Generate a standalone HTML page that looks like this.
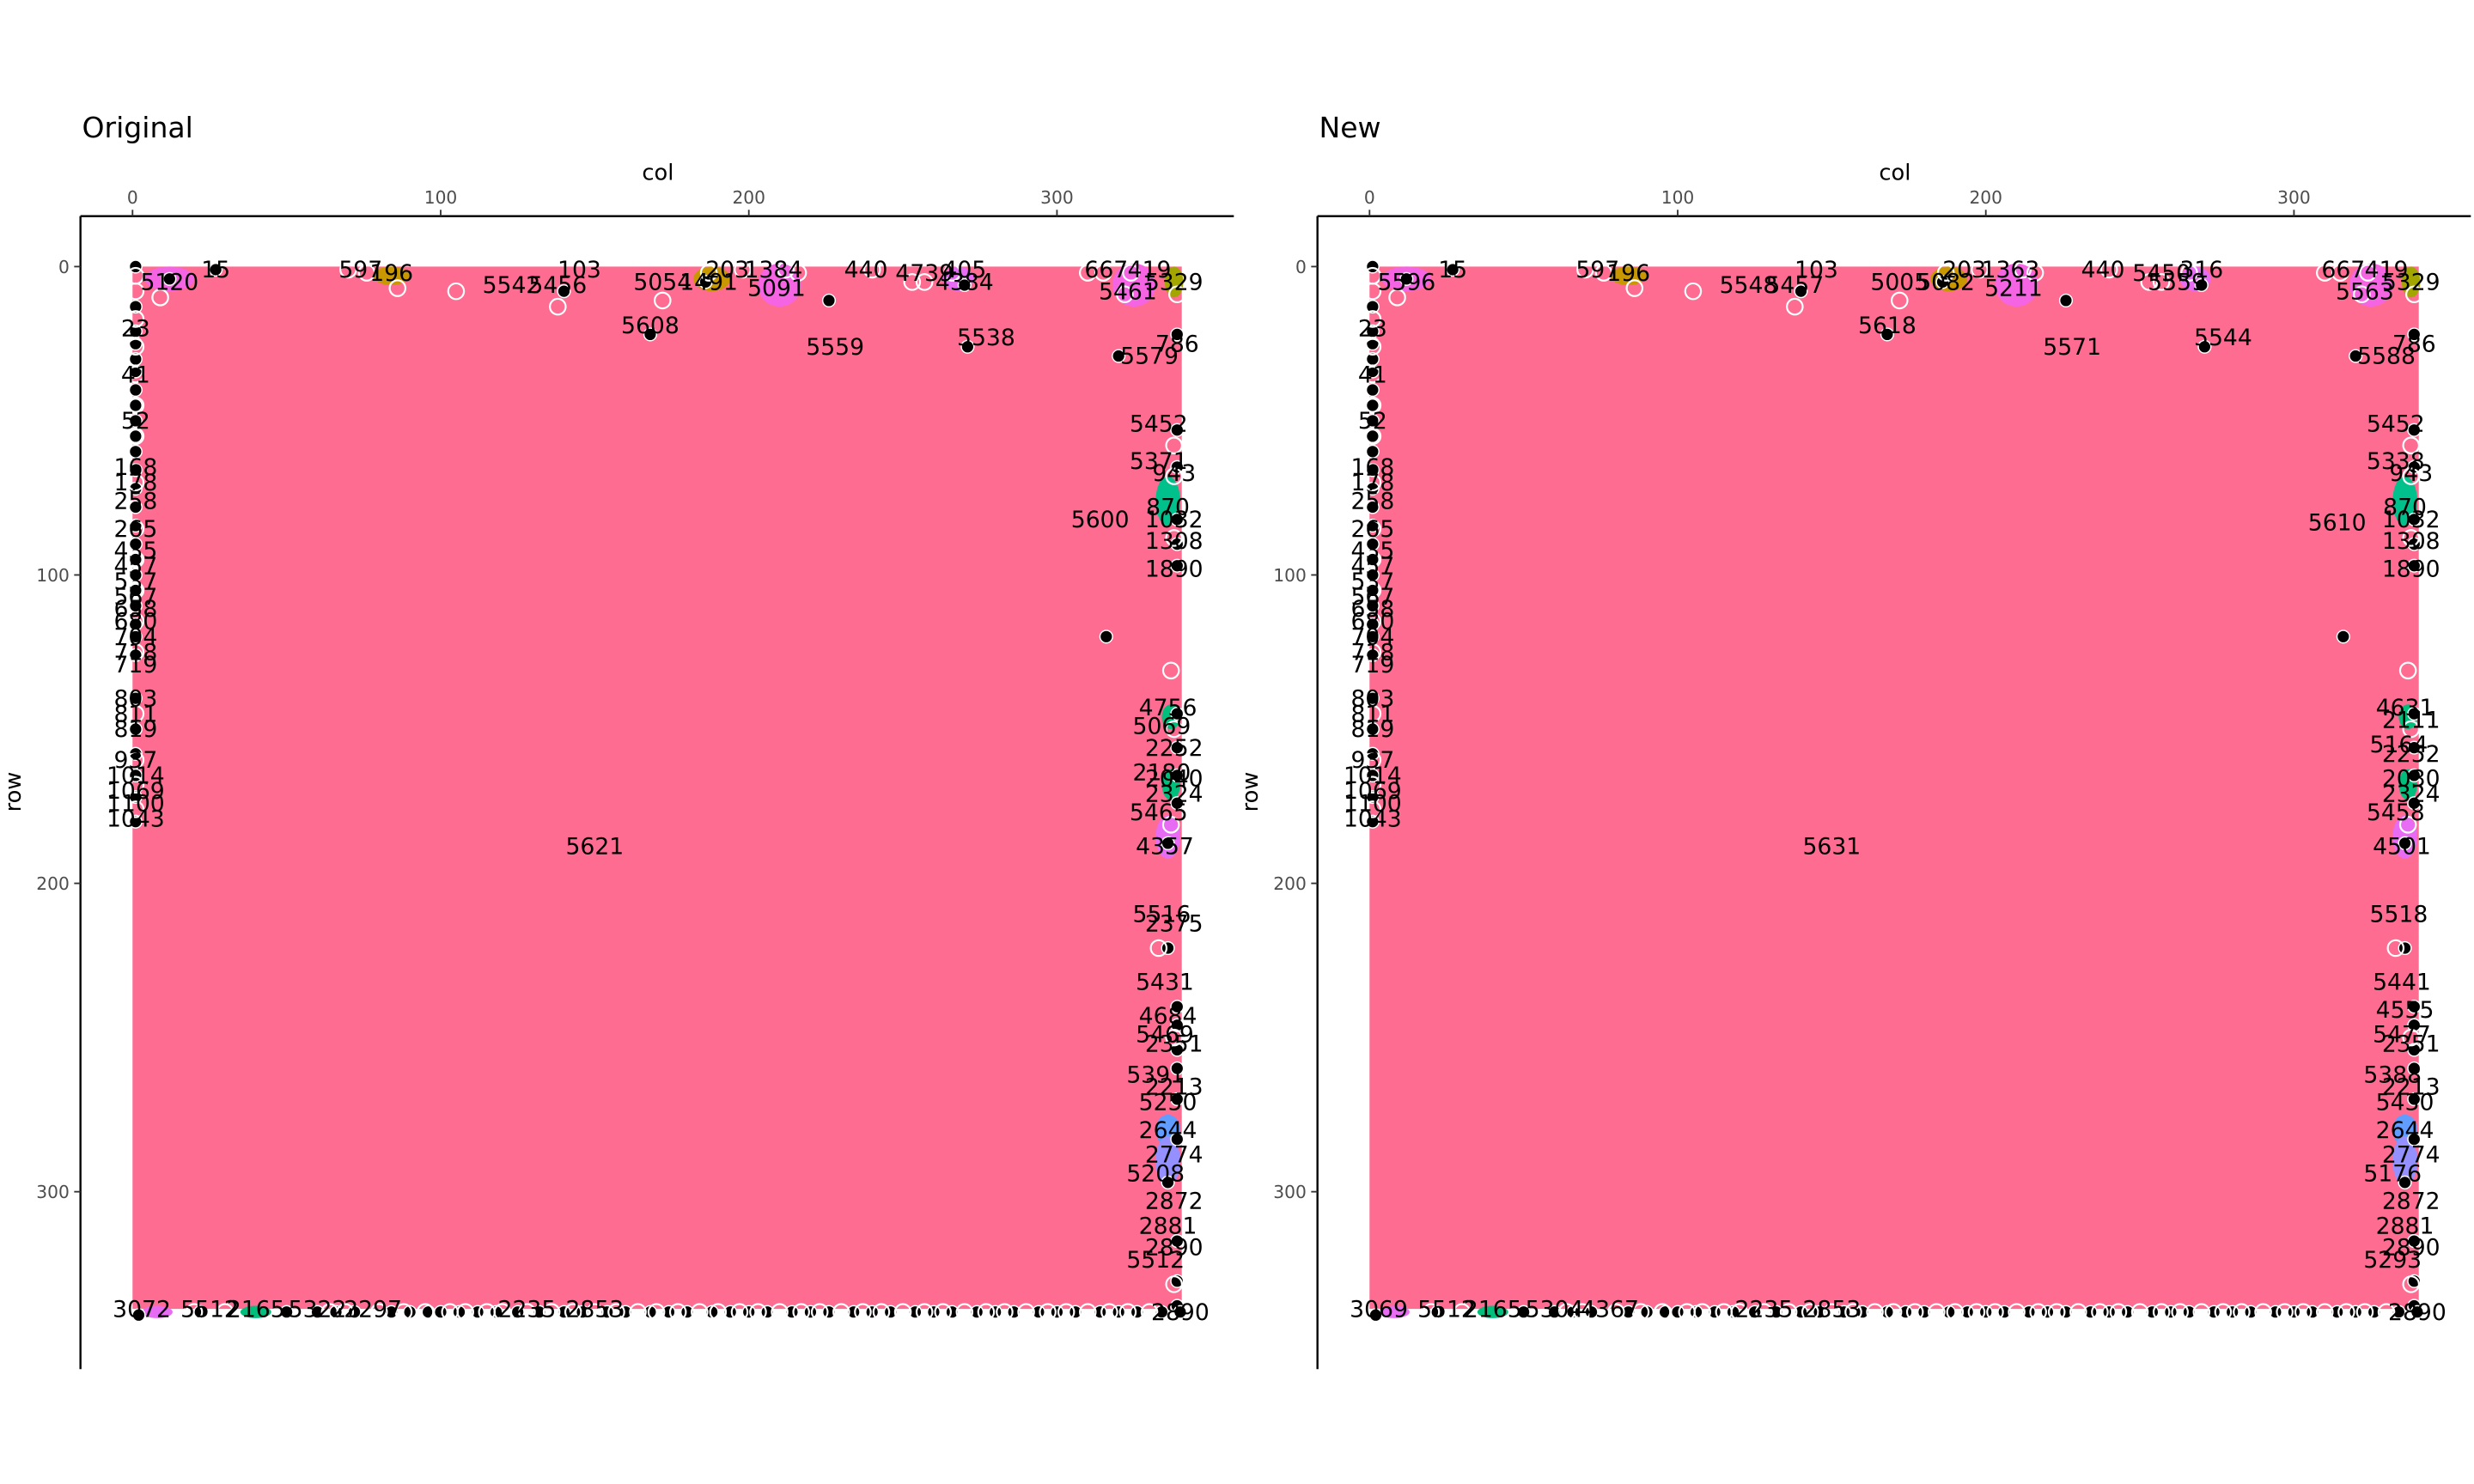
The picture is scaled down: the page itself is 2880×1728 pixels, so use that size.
<!DOCTYPE html>
<html><head><meta charset="utf-8"><style>
html,body{margin:0;padding:0;background:#fff}
svg{display:block}
text{font-family:"DejaVu Sans","Liberation Sans",sans-serif}
</style></head><body>
<svg id="chart" width="2880" height="1728" viewBox="0 0 1568 940.8" xmlns="http://www.w3.org/2000/svg"></svg>
<script>
const xTicks=[0,100,200,300];
const yTicks=[0,100,200,300];
const panelTitles=["Original","New"];
const bigLabels=[[150,188,"5621"],[150,188,"5631"]];
const leftLabels=[[1,140,"803"],[1,145,"811"],[1,150,"819"],[1,160,"937"],[1,165,"1014"],[1,170,"1069"],[1,174,"1100"],[1,179,"1043"],[1,65,"168"],[1,70,"178"],[1,76,"258"],[1,85,"265"],[1,92,"435"],[1,97,"457"],[1,102,"537"],[1,107,"567"],[1,111,"658"],[1,115,"680"],[1,120,"704"],[1,125,"718"],[1,129,"719"],[1,20,"23"],[1,35,"41"],[1,50,"52"]];
const labelsOrig=[[27,1,"15"],[12,5,"5120"],[74,1,"597"],[84,2,"196"],[123,6,"5542"],[138,6,"5456"],[145,1,"103"],[172,5,"5054"],[187,5,"1491"],[193,1,"203"],[209,7,"5091"],[208,1,"1384"],[238,1,"440"],[257,2,"4739"],[270,1,"405"],[270,5,"4384"],[316,1,"667"],[330,1,"419"],[323,8,"5461"],[338,5,"5329"],[168,19,"5608"],[228,26,"5559"],[277,23,"5538"],[330,29,"5579"],[339,25,"786"],[333,51,"5452"],[333,63,"5371"],[338,67,"943"],[336,78,"870"],[338,82,"1032"],[338,89,"1308"],[338,98,"1890"],[314,82,"5600"],[336,143,"4756"],[334,149,"5069"],[338,156,"2252"],[334,164,"2180"],[338,166,"2040"],[338,171,"2324"],[333,177,"5465"],[335,188,"4357"],[334,210,"5516"],[338,213,"2375"],[335,232,"5431"],[336,243,"4684"],[335,249,"5469"],[338,252,"2351"],[332,262,"5391"],[338,266,"2213"],[336,271,"5250"],[336,280,"2644"],[338,288,"2774"],[332,294,"5208"],[338,303,"2872"],[336,311,"2881"],[338,318,"2890"],[332,322,"5512"],[3,338,"3072"],[25,338,"5512"],[40,338,"2165"],[60,338,"5322"],[78,338,"2297"],[128,338,"2235"],[150,338,"2853"],[340,339,"2890"]];
const labelsNew=[[27,1,"15"],[12,5,"5596"],[74,1,"597"],[84,2,"196"],[123,6,"5548"],[138,6,"5457"],[145,1,"103"],[172,5,"5005"],[187,5,"5082"],[193,1,"203"],[209,7,"5211"],[208,1,"1363"],[238,1,"440"],[257,2,"5450"],[270,1,"316"],[262,5,"5559"],[316,1,"667"],[330,1,"419"],[323,8,"5563"],[338,5,"5329"],[168,19,"5618"],[228,26,"5571"],[277,23,"5544"],[330,29,"5588"],[339,25,"786"],[333,51,"5452"],[333,63,"5338"],[338,67,"943"],[336,78,"870"],[338,82,"1032"],[338,89,"1308"],[338,98,"1890"],[314,83,"5610"],[336,143,"4631"],[338,147,"2111"],[334,155,"5164"],[338,158,"2252"],[338,166,"2030"],[338,171,"2324"],[333,177,"5458"],[335,188,"4501"],[334,210,"5518"],[335,232,"5441"],[336,241,"4555"],[335,249,"5477"],[338,252,"2351"],[332,262,"5388"],[338,266,"2213"],[336,271,"5430"],[336,280,"2644"],[338,288,"2774"],[332,294,"5176"],[338,303,"2872"],[336,311,"2881"],[338,318,"2890"],[332,322,"5293"],[3,338,"3069"],[25,338,"5512"],[40,338,"2165"],[60,338,"5304"],[78,338,"4367"],[128,338,"2235"],[150,338,"2853"],[340,339,"2890"]];
const blobs=[[12,4,8,4,"#f564e3"],[84,3,6,3,"#c99800"],[188,4,6,4,"#c99800"],[210,6,7,7,"#f564e3"],[268,4,5,4,"#e76bf3"],[325,6,7,7,"#f564e3"],[338,5,3,5,"#a3a500"],[336,76,4,8,"#00c08b"],[337,146,3,4,"#00bf7d"],[337,168,3,5,"#00bf7d"],[336,185,4,7,"#e76bf3"],[336,280,4,5,"#619cff"],[336,290,4,8,"#9590ff"],[40,339,5,2,"#00bf7d"],[8,339,5,2,"#e76bf3"]];
const blackDots=[[1,0],[12,4],[27,1],[1,13],[1,21],[1,25],[1,30],[1,34],[1,40],[1,45],[1,50],[1,55],[1,60],[1,66],[1,72],[1,78],[1,84],[1,90],[1,95],[1,100],[1,105],[1,110],[1,116],[1,120],[1,126],[1,140],[1,150],[1,158],[1,165],[1,172],[1,180],[140,8],[168,22],[186,5],[226,11],[270,6],[271,26],[320,29],[339,22],[339,53],[339,65],[339,82],[339,90],[339,97],[316,120],[339,145],[339,156],[339,165],[339,174],[336,187],[336,221],[339,240],[339,246],[339,254],[339,260],[339,270],[339,283],[336,297],[339,316],[339,329],[339,337],[2,340],[22,339],[50,339],[60,339],[66,339],[72,339],[84,339],[90,339],[96,339],[100,339],[106,339],[112,339],[118,339],[125,339],[132,339],[140,339],[146,339],[154,339],[160,339],[168,339],[174,339],[180,339],[188,339],[194,339],[200,339],[206,339],[214,339],[220,339],[226,339],[234,339],[240,339],[246,339],[254,339],[260,339],[266,339],[274,339],[280,339],[286,339],[294,339],[300,339],[306,339],[314,339],[320,339],[326,339],[334,339],[340,339]];
const whiteCircles=[[1,3],[9,10],[70,1],[76,2],[86,7],[105,8],[138,13],[172,11],[187,2],[198,1],[212,1],[216,2],[240,1],[253,5],[257,5],[266,2],[310,2],[315,2],[324,2],[322,9],[339,9],[1,8],[1,17],[1,26],[1,35],[1,45],[1,55],[1,70],[1,85],[1,95],[1,105],[1,115],[1,125],[1,145],[1,160],[1,168],[1,176],[338,58],[338,68],[338,88],[337,131],[338,150],[337,181],[333,221],[338,250],[338,330],[20,339],[30,339],[64,339],[69,339],[80,339],[88,339],[95,339],[103,339],[108,339],[115,339],[120,339],[128,339],[136,339],[143,339],[150,339],[157,339],[164,339],[170,339],[177,339],[184,339],[190,339],[197,339],[203,339],[210,339],[217,339],[223,339],[230,339],[237,339],[243,339],[250,339],[257,339],[263,339],[270,339],[277,339],[283,339],[290,339],[297,339],[303,339],[310,339],[317,339],[323,339],[330,339]];

const NS="http://www.w3.org/2000/svg";
const svg=document.getElementById('chart');
function mk(tag,attrs,parent){const e=document.createElementNS(NS,tag);for(const k in attrs)e.setAttribute(k,attrs[k]);(parent||svg).appendChild(e);return e;}
function drawPanel(p,labels){
  const ox=p*784;
  const sx=c=>ox+84+c*1.953;
  const sy=r=>169+r*1.955;
  const g=mk('g',{});
  
  
  const t=mk('text',{x:ox+52,y:87,'font-size':18},g);t.textContent=panelTitles[p];
  
  const xt=mk('text',{x:ox+417,y:114,'font-size':14,'text-anchor':'middle'},g);xt.textContent='col';
  
  const yt=mk('text',{x:0,y:0,'font-size':14,'text-anchor':'middle',transform:`translate(${ox+13},502) rotate(-90)`},g);yt.textContent='row';
  
  mk('line',{x1:ox+51,x2:ox+782,y1:137,y2:137,stroke:'#000','stroke-width':1.3},g);
  mk('line',{x1:ox+51,x2:ox+51,y1:137,y2:868,stroke:'#000','stroke-width':1.3},g);
  xTicks.forEach(v=>{mk('line',{x1:sx(v),x2:sx(v),y1:133,y2:137,stroke:'#333'},g);
    const l=mk('text',{x:sx(v),y:129,'font-size':11,fill:'#4d4d4d','text-anchor':'middle'},g);l.textContent=v;
    });
  yTicks.forEach(v=>{mk('line',{x1:ox+47,x2:ox+51,y1:sy(v),y2:sy(v),stroke:'#333'},g);
    const l=mk('text',{x:ox+44,y:sy(v)+4,'font-size':11,fill:'#4d4d4d','text-anchor':'end'},g);l.textContent=v;
    });
  const reg=mk('rect',{x:sx(0),y:sy(0),width:sx(340.5)-sx(0),height:sy(338)-sy(0),fill:'#ff6c91'},g);
  
  blobs.forEach(b=>{const e=mk('ellipse',{cx:sx(b[0]),cy:sy(b[1]),rx:b[2]*1.953,ry:b[3]*1.955,fill:b[4]},g);
    });
  blackDots.forEach(d=>{const e=mk('circle',{cx:sx(d[0]),cy:sy(d[1]),r:4,fill:'#000',stroke:'#fff','stroke-width':0.8},g);
    });
  whiteCircles.forEach(d=>{const e=mk('circle',{cx:sx(d[0]),cy:sy(d[1]),r:5,fill:'none',stroke:'#fff','stroke-width':1.2},g);
    });
  labels.concat(leftLabels).forEach(L=>{const e=mk('text',{x:sx(L[0]),y:sy(L[1])+5,'font-size':14.5,'text-anchor':'middle'},g);e.textContent=L[2];
    });
  const bl=bigLabels[p];
  const e=mk('text',{x:sx(bl[0]),y:sy(bl[1])+5,'font-size':14.5,'text-anchor':'middle'},g);e.textContent=bl[2];
  
}
drawPanel(0,labelsOrig);
drawPanel(1,labelsNew);
</script>
</body></html>
